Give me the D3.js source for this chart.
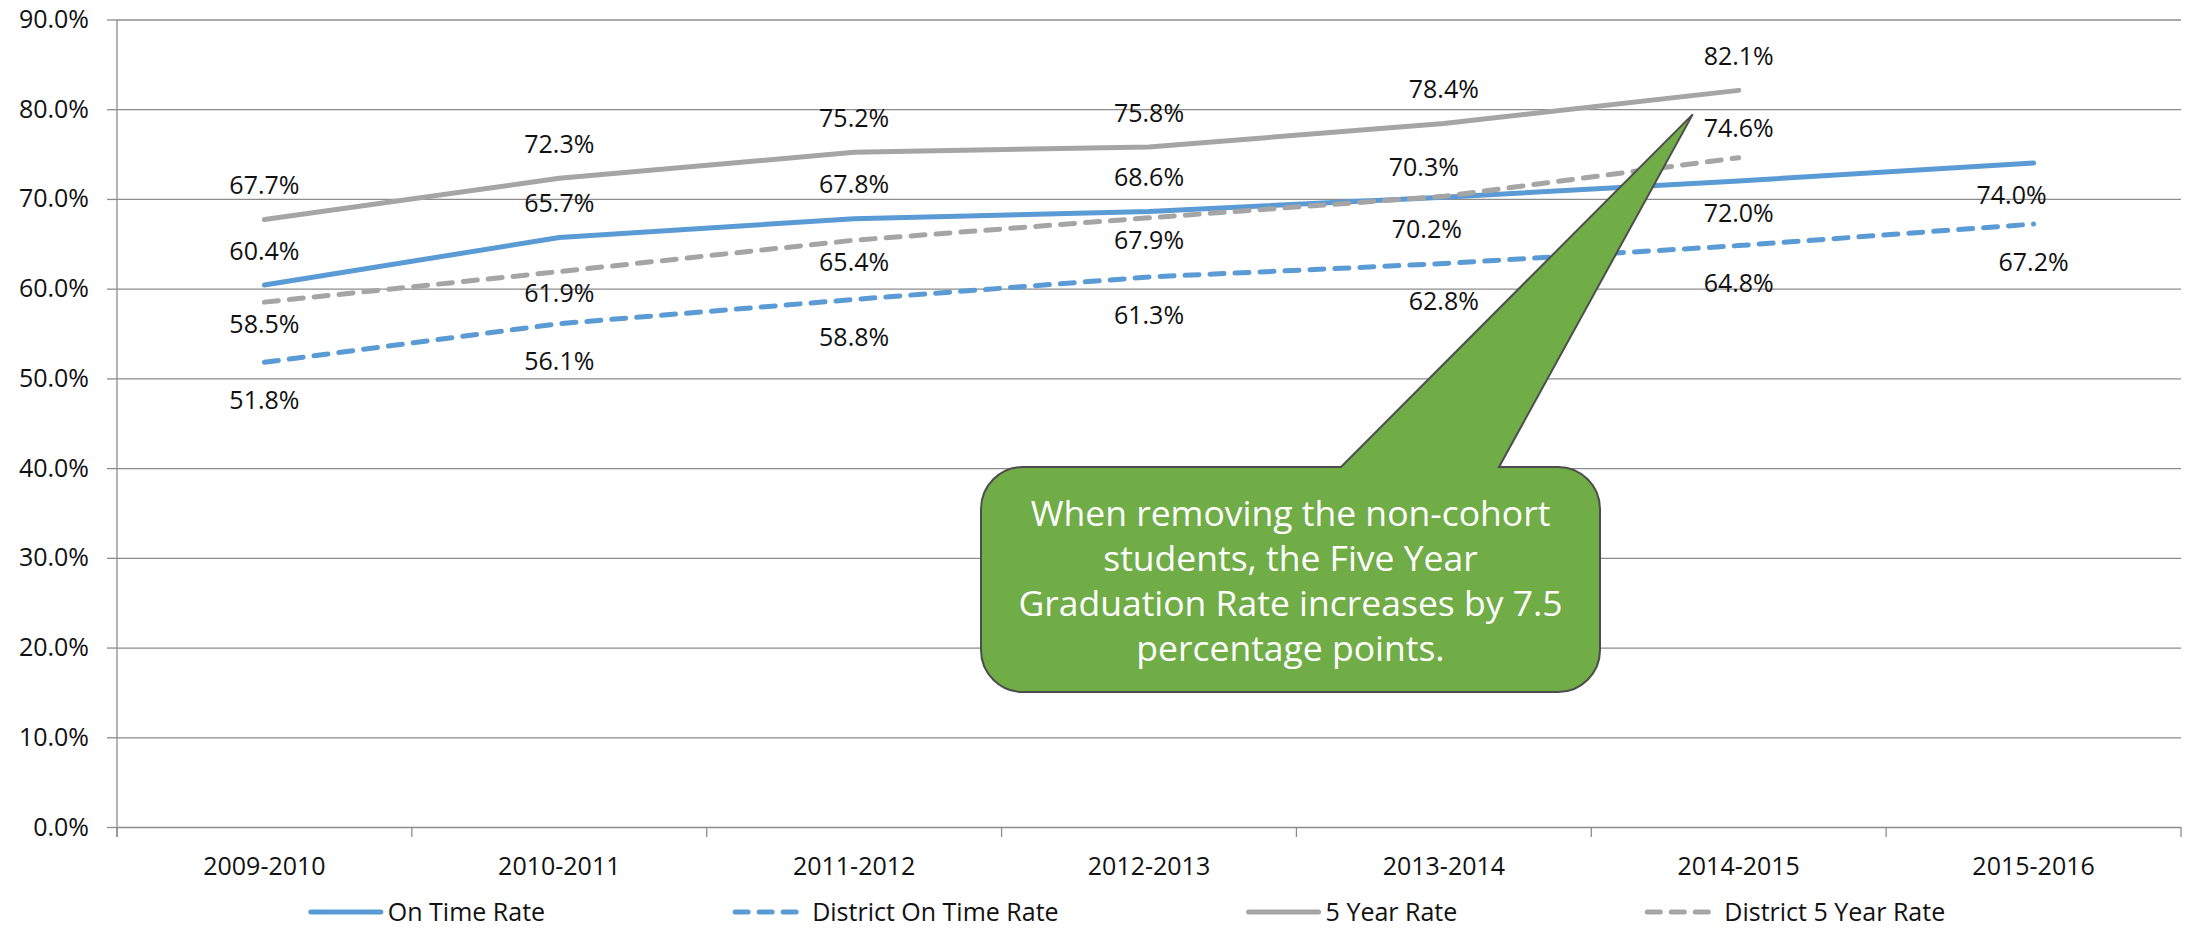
<!DOCTYPE html>
<html>
<head>
<meta charset="utf-8">
<script src="https://cdn.jsdelivr.net/npm/d3@7"></script>
<style>
  body { margin: 0; background: #fff; }
  svg text { font-family: "Open Sans", "Noto Sans", sans-serif; fill: #111; }
</style>
</head>
<body>
<svg id="chart"></svg>
<script>
/*** DATA ***/
const years = ["2009-2010", "2010-2011", "2011-2012", "2012-2013", "2013-2014", "2014-2015", "2015-2016"];
const onTime = [60.4, 65.7, 67.8, 68.6, 70.2, 72.0, 74.0];
const districtOnTime = [51.8, 56.1, 58.8, 61.3, 62.8, 64.8, 67.2];
const fiveYear = [67.7, 72.3, 75.2, 75.8, 78.4, 82.1];
const districtFiveYear = [58.5, 61.9, 65.4, 67.9, 70.3, 74.6];
const yTicks = [0, 10, 20, 30, 40, 50, 60, 70, 80, 90];
const calloutLines = [
  "When removing the non-cohort",
  "students, the Five Year",
  "Graduation Rate increases by 7.5",
  "percentage points."
];

// where each data label sits relative to its point
const labelSide = {
  fiveYear: ["above", "above", "above", "above", "above", "above"],
  onTime: ["above", "above", "above", "above", "below", "below", "below"],
  districtFiveYear: ["below", "below", "below", "below", "above", "above"],
  districtOnTime: ["below", "below", "below", "below", "below", "below", "below"]
};

/*** CONSTANTS ***/
const WIDTH = 2190;
const HEIGHT = 930;
const BLUE = "#5B9BD5";
const GRAY = "#A5A5A5";
const GRID = "#8c8c8c";
const FONT = 25;
const LINE_W = 5;

const plot = { left: 117, right: 2181, top: 19.5, bottom: 827 };

const series = [
  { key: "onTime", name: "On Time Rate", values: onTime, color: BLUE, dash: null, above: -34, below: 32 },
  { key: "districtOnTime", name: "District On Time Rate", values: districtOnTime, color: BLUE, dash: "14,11", above: -34, below: 38 },
  { key: "fiveYear", name: "5 Year Rate", values: fiveYear, color: GRAY, dash: null, above: -34, below: 34 },
  { key: "districtFiveYear", name: "District 5 Year Rate", values: districtFiveYear, color: GRAY, dash: "14,11", above: -29, below: 22 }
];

// small manual nudges that the original chart had on crowded labels
const labelShift = { "onTime-4": -17, "districtFiveYear-4": -20, "onTime-6": -22 };

const svg = d3.select("#chart").attr("width", WIDTH).attr("height", HEIGHT);

const x = d3.scaleBand().domain(years).range([plot.left, plot.right]);
const cx = d => x(d) + x.bandwidth() / 2;
const y = d3.scaleLinear().domain([0, 90]).range([plot.bottom, plot.top]);

/*** GRID + AXES ***/
svg.append("g")
  .attr("transform", `translate(${plot.left},0)`)
  .call(d3.axisLeft(y).tickValues(yTicks).tickSize(-(plot.right - plot.left)).tickFormat(""))
  .call(g => g.select(".domain").remove())
  .call(g => g.selectAll("line").attr("stroke", GRID).attr("stroke-width", 1.3));

svg.append("g")
  .attr("transform", `translate(${plot.left},0)`)
  .call(d3.axisLeft(y).tickValues(yTicks).tickSize(10).tickPadding(18).tickFormat(d => d.toFixed(1) + "%"))
  .call(g => g.select(".domain").remove())
  .call(g => g.selectAll("line").attr("stroke", GRID).attr("stroke-width", 1.3))
  .call(g => g.selectAll("text").attr("font-size", FONT).attr("font-family", null).style("fill", "#111"));

// vertical axis line
svg.append("line")
  .attr("x1", plot.left).attr("x2", plot.left)
  .attr("y1", y(90)).attr("y2", plot.bottom + 10)
  .attr("stroke", GRID).attr("stroke-width", 1.3);

svg.append("g")
  .attr("transform", `translate(0,${plot.bottom})`)
  .call(d3.axisBottom(x).tickSize(0).tickPadding(30))
  .call(g => g.select(".domain").remove())
  .call(g => g.selectAll("text").attr("font-size", FONT).attr("font-family", null).style("fill", "#111"));

// category boundary ticks
svg.append("g")
  .selectAll("line")
  .data(years.map(d => x(d)).concat([plot.right]))
  .join("line")
  .attr("x1", d => d).attr("x2", d => d)
  .attr("y1", plot.bottom).attr("y2", plot.bottom + 10)
  .attr("stroke", GRID).attr("stroke-width", 1.3);

/*** LINES ***/
const line = d3.line().x((d, i) => cx(years[i])).y(d => y(d));

svg.append("g")
  .selectAll("path")
  .data(series)
  .join("path")
  .attr("d", s => line(s.values))
  .attr("fill", "none")
  .attr("stroke", s => s.color)
  .attr("stroke-width", LINE_W)
  .attr("stroke-linecap", "round")
  .attr("stroke-linejoin", "round")
  .attr("stroke-dasharray", s => s.dash);

/*** DATA LABELS ***/
series.forEach(s => {
  svg.append("g")
    .selectAll("text")
    .data(s.values)
    .join("text")
    .attr("x", (d, i) => cx(years[i]) + (labelShift[s.key + "-" + i] || 0))
    .attr("y", (d, i) => y(d) + (labelSide[s.key][i] === "above" ? s.above : s.below))
    .attr("dy", "0.35em")
    .attr("text-anchor", "middle")
    .attr("font-size", FONT)
    .text(d => d.toFixed(1) + "%");
});

/*** CALLOUT ***/
const box = { left: 981, right: 1600, top: 467, bottom: 692, r: 42 };
const tip = { x: cx("2014-2015") - 46, y: y(fiveYear[5]) + 24 };
const base = [1341, 1499];

const callout = d3.path();
callout.moveTo(box.left + box.r, box.top);
callout.lineTo(base[0], box.top);
callout.lineTo(tip.x, tip.y);
callout.lineTo(base[1], box.top);
callout.lineTo(box.right - box.r, box.top);
callout.arcTo(box.right, box.top, box.right, box.top + box.r, box.r);
callout.lineTo(box.right, box.bottom - box.r);
callout.arcTo(box.right, box.bottom, box.right - box.r, box.bottom, box.r);
callout.lineTo(box.left + box.r, box.bottom);
callout.arcTo(box.left, box.bottom, box.left, box.bottom - box.r, box.r);
callout.lineTo(box.left, box.top + box.r);
callout.arcTo(box.left, box.top, box.left + box.r, box.top, box.r);
callout.closePath();

svg.append("path")
  .attr("d", callout.toString())
  .attr("fill", "#70AD47")
  .attr("stroke", "#4d4d4d")
  .attr("stroke-width", 2);

svg.append("g")
  .selectAll("text")
  .data(calloutLines)
  .join("text")
  .attr("x", (box.left + box.right) / 2)
  .attr("y", (d, i) => 526 + i * 45)
  .attr("text-anchor", "middle")
  .attr("font-size", 35.5)
  .style("fill", "#fff")
  .text(d => d);

/*** LEGEND ***/
const LEGEND_Y = 912;
const SYMBOL = 70;
const legend = svg.append("g");
const items = legend.selectAll("g")
  .data(series)
  .join("g");

items.append("line")
  .attr("x1", 0).attr("x2", SYMBOL)
  .attr("y1", 0).attr("y2", 0)
  .attr("stroke", s => s.color)
  .attr("stroke-width", LINE_W)
  .attr("stroke-linecap", "round")
  .attr("stroke-dasharray", s => s.dash ? "13,11" : null);

items.append("text")
  .attr("x", SYMBOL + 7)
  .attr("dy", "0.35em")
  .attr("font-size", FONT)
  .text(s => s.name);

let pos = 0;
const offsets = [];
items.each(function () {
  offsets.push(pos);
  pos += SYMBOL + 7 + d3.select(this).select("text").node().getComputedTextLength() + 190;
});
const total = pos - 190;
const start = 1128 - total / 2;
items.attr("transform", (d, i) => `translate(${start + offsets[i]},${LEGEND_Y})`);
</script>
</body>
</html>
